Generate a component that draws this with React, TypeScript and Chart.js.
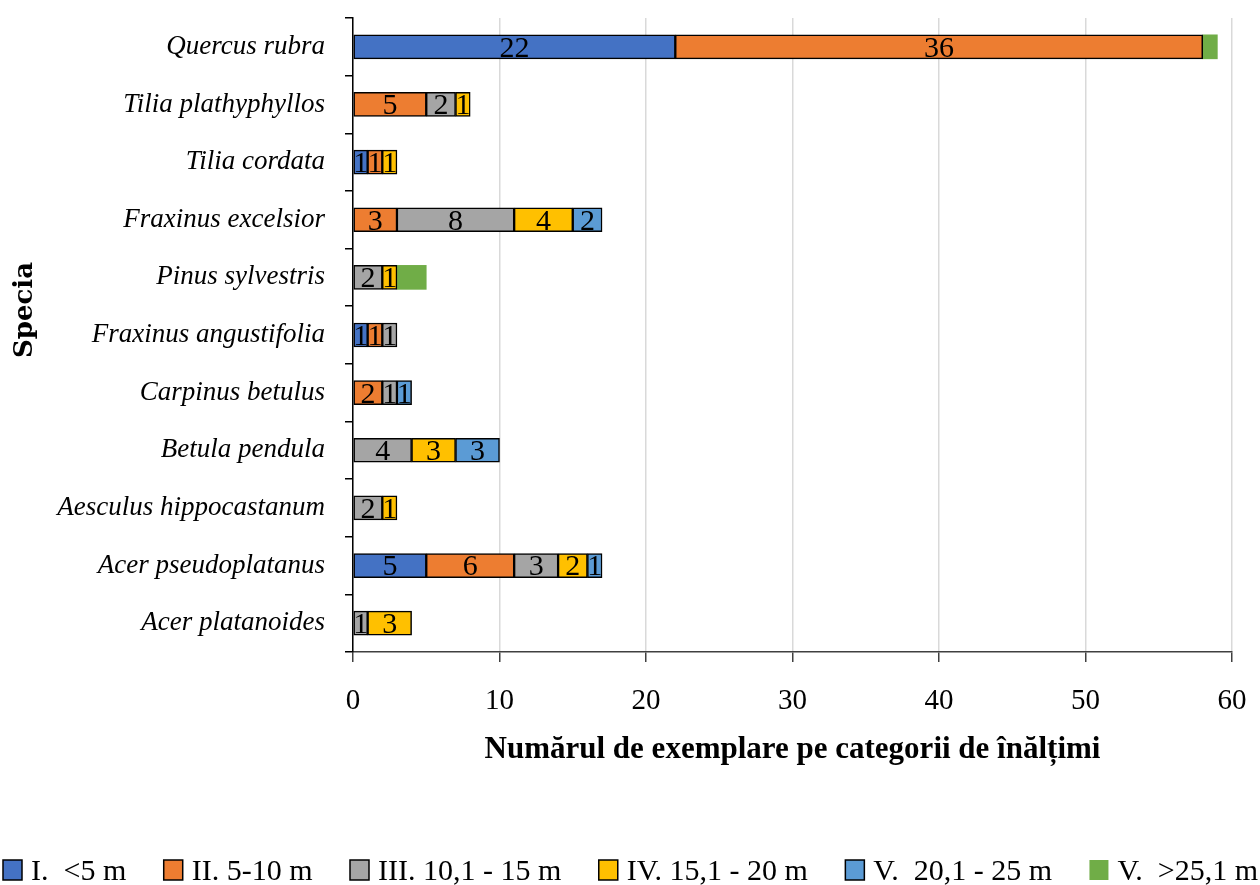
import React, { useEffect, useRef } from "react";
import { Chart, registerables } from "chart.js";

Chart.register(...registerables);

const categories = [
  "Quercus rubra",
  "Tilia plathyphyllos",
  "Tilia cordata",
  "Fraxinus excelsior",
  "Pinus sylvestris",
  "Fraxinus angustifolia",
  "Carpinus betulus",
  "Betula pendula",
  "Aesculus hippocastanum",
  "Acer pseudoplatanus",
  "Acer platanoides",
];

const seriesNames = [
  "I.  <5 m",
  "II. 5-10 m",
  "III. 10,1 - 15 m",
  "IV. 15,1 - 20 m",
  "V.  20,1 - 25 m",
  "V.  >25,1 m",
];

const s1 = [22, 0, 1, 0, 0, 1, 0, 0, 0, 5, 0];
const s2 = [36, 5, 1, 3, 0, 1, 2, 0, 0, 6, 0];
const s3 = [0, 2, 0, 8, 2, 1, 1, 4, 2, 3, 1];
const s4 = [0, 1, 1, 4, 1, 0, 0, 3, 1, 2, 3];
const s5 = [0, 0, 0, 2, 0, 0, 1, 3, 0, 1, 0];
const s6 = [1, 0, 0, 0, 2, 0, 0, 0, 0, 0, 0];

const xTicks = [0, 10, 20, 30, 40, 50, 60];

const colors = ["#4472C4", "#ED7D31", "#A5A5A5", "#FFC000", "#5B9BD5", "#70AD47"];
const labelled = [true, true, true, true, true, false];

const SERIF = "'Liberation Serif', 'Times New Roman', serif";

const dataLabelPlugin = {
  id: "dataLabels",
  afterDatasetsDraw(chart: any) {
    const ctx = chart.ctx;
    ctx.save();
    ctx.font = `30px ${SERIF}`;
    ctx.fillStyle = "#000";
    ctx.textAlign = "center";
    ctx.textBaseline = "middle";
    chart.data.datasets.forEach((ds: any, di: number) => {
      if (!labelled[di]) return;
      const meta = chart.getDatasetMeta(di);
      meta.data.forEach((el: any, i: number) => {
        const v = ds.data[i];
        if (v === null || v === undefined || v === 0) return;
        const c = el.getCenterPoint();
        ctx.fillText(String(v), c.x, c.y + 2);
      });
    });
    ctx.restore();
  },
};

const yTitlePlugin = {
  id: "yTitle",
  afterDraw(chart: any) {
    const ctx = chart.ctx;
    const area = chart.chartArea;
    ctx.save();
    ctx.font = `bold 26px 'DejaVu Serif', serif`;
    ctx.fillStyle = "#000";
    ctx.textAlign = "center";
    ctx.textBaseline = "middle";
    ctx.translate(25, (area.top + area.bottom) / 2 - 25);
    ctx.rotate(-Math.PI / 2);
    ctx.fillText("Specia", 0, 0);
    ctx.restore();
  },
};

const LEGEND_H = 60;

const legendPlugin = {
  id: "bottomLegend",
  afterDraw(chart: any) {
    const ctx = chart.ctx;
    const W = chart.width;
    const H = chart.height;
    const boxW = 19;
    const boxH = 20;
    const textGap = 9;
    const left = 3;
    const right = W - 2;
    ctx.save();
    ctx.font = `30px ${SERIF}`;
    const widths = seriesNames.map((t) => boxW + textGap + ctx.measureText(t).width);
    const sum = widths.reduce((a, b) => a + b, 0);
    const gap = (right - left - sum) / (seriesNames.length - 1);
    let x = left;
    const baseline = H - 5;
    const boxTop = H - 25;
    seriesNames.forEach((t, i) => {
      ctx.fillStyle = colors[i];
      ctx.fillRect(x, boxTop, boxW, boxH);
      if (labelled[i]) {
        ctx.strokeStyle = "#000";
        ctx.lineWidth = 1.5;
        ctx.strokeRect(x, boxTop, boxW, boxH);
      }
      ctx.fillStyle = "#000";
      ctx.textAlign = "left";
      ctx.textBaseline = "alphabetic";
      ctx.fillText(t, x + boxW + textGap, baseline);
      x += widths[i] + gap;
    });
    ctx.restore();
  },
};

export default function App() {
  const ref = useRef<HTMLCanvasElement | null>(null);

  useEffect(() => {
    document.body.style.margin = "0";
    if (!ref.current) return;
    const all = [s1, s2, s3, s4, s5, s6];
    const chart = new Chart(ref.current, {
      type: "bar",
      data: {
        labels: categories,
        datasets: all.map((arr, i) => ({
          label: seriesNames[i],
          data: arr.map((v) => (v === 0 ? null : v)),
          backgroundColor: colors[i],
          borderColor: labelled[i] ? "#000" : colors[i],
          borderWidth: labelled[i] ? 1.5 : 0,
          borderSkipped: false,
          barThickness: 24,
        })),
      },
      options: {
        indexAxis: "y",
        responsive: false,
        animation: false,
        layout: { padding: { top: 18, right: 28, left: 0, bottom: LEGEND_H } },
        plugins: {
          legend: { display: false },
          tooltip: { enabled: false },
        },
        scales: {
          x: {
            stacked: true,
            min: 0,
            max: 60,
            afterBuildTicks: (scale: any) => {
              scale.ticks = xTicks.map((v) => ({ value: v }));
            },
            afterFit: (scale: any) => {
              scale.height = 885 - LEGEND_H - 652;
              scale.paddingLeft = 0;
              scale.paddingRight = 0;
            },
            grid: {
              color: "#d9d9d9",
              lineWidth: 1.5,
              tickColor: "#404040",
              tickLength: 10,
            },
            border: { display: true, color: "#404040", width: 1.5 },
            ticks: {
              font: { family: SERIF, size: 29 },
              color: "#000",
              padding: 22,
              maxRotation: 0,
            },
            title: {
              display: true,
              text: "Numărul de exemplare pe categorii de înălțimi",
              font: { family: SERIF, size: 31, weight: "bold" },
              color: "#000",
              padding: { top: 10, bottom: 56 },
            },
          },
          y: {
            stacked: true,
            afterFit: (scale: any) => {
              scale.width = 353;
              scale.paddingTop = 0;
              scale.paddingBottom = 0;
            },
            grid: {
              display: true,
              drawOnChartArea: false,
              drawTicks: true,
              tickLength: 8,
              color: "#000",
              lineWidth: 1.5,
              offset: true,
            },
            border: { display: true, color: "#000", width: 1.5 },
            ticks: {
              font: { family: SERIF, size: 27, style: "italic" },
              color: "#000",
              padding: 20,
            },
          },
        },
      },
      plugins: [dataLabelPlugin, yTitlePlugin, legendPlugin],
    } as any);
    return () => chart.destroy();
  }, []);

  return (
    <div style={{ width: 1260, height: 885 }}>
      <canvas ref={ref} width={1260} height={885} style={{ display: "block" }} />
    </div>
  );
}
